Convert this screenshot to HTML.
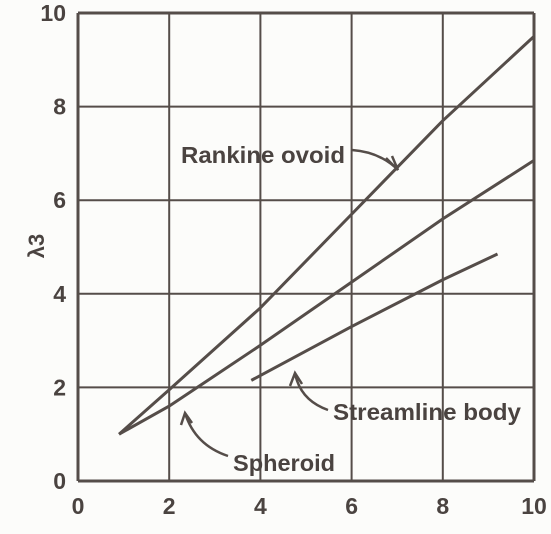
<!DOCTYPE html>
<html><head><meta charset="utf-8"><style>
html,body{margin:0;padding:0;background:#fcfcfa;}
svg{display:block;}
text{font-family:"Liberation Sans",sans-serif;fill:#4a4340;font-weight:bold;}
</style></head><body>
<svg id="chart" width="551" height="534"></svg>
<script>
const xTicks=[0,2,4,6,8,10];
const yTicks=[0,2,4,6,8,10];
const rankineX=[0.9,2,4,6,8,10];
const rankineY=[1.0,1.95,3.7,5.7,7.7,9.5];
const spheroidX=[0.9,2,4,6,8,10];
const spheroidY=[1.0,1.6,2.9,4.25,5.6,6.85];
const streamX=[3.8,6,8,9.2];
const streamY=[2.15,3.3,4.3,4.85];

const X0=78,X1=534,Y0=481,Y1=13;
const sx=v=>X0+(v-0)/10*(X1-X0);
const sy=v=>Y0-(v-0)/10*(Y0-Y1);
const NS="http://www.w3.org/2000/svg";
const svg=document.getElementById('chart');
function mk(t,a){const e=document.createElementNS(NS,t);for(const k in a)e.setAttribute(k,a[k]);svg.appendChild(e);return e;}
const ink="#554d49";
xTicks.forEach(v=>{
 const l=mk('line',{x1:sx(v),x2:sx(v),y1:Y1,y2:Y0,stroke:ink,'stroke-width':v===0||v===10?3:2});
 
 
 const t=mk('text',{x:sx(v),y:Y0+33,'text-anchor':'middle','font-size':23});
 t.textContent=v;
 
 
});
yTicks.forEach(v=>{
 const l=mk('line',{x1:X0,x2:X1,y1:sy(v),y2:sy(v),stroke:ink,'stroke-width':v===0||v===10?3:2});
 
 
 const t=mk('text',{x:X0-12,y:sy(v)+8,'text-anchor':'end','font-size':23});
 t.textContent=v;
 
 
});
function series(xs,ys,name){
 const d=xs.map((x,i)=>(i?'L':'M')+sx(x)+' '+sy(ys[i])).join(' ');
 const p=mk('path',{d:d,fill:'none',stroke:ink,'stroke-width':3});
 
 
}
series(rankineX,rankineY,'rankine-ovoid-line');
series(spheroidX,spheroidY,'spheroid-line');
series(streamX,streamY,'streamline-body-line');
function arrow(d,name){
 const p=mk('path',{d:d,fill:'none',stroke:ink,'stroke-width':2.5});
 
 
}
arrow('M352 150 Q380 152 398 170 M386 158 L398 170 L392 156','rankine-arrow');
arrow('M328 410 Q300 400 295 373 M290 386 L295 373 L302 384','streamline-arrow');
arrow('M228 456 Q195 445 185 413 M181 425 L185 413 L192 423','spheroid-arrow');
function lab(x,y,s,w,name){const t=mk('text',{x:x,y:y,'font-size':23,textLength:w,lengthAdjust:'spacingAndGlyphs'});t.textContent=s;
 }
lab(181,163,'Rankine ovoid',164,'rankine-label');
lab(333,420,'Streamline body',188,'streamline-label');
lab(233,471,'Spheroid',102,'spheroid-label');
const yl=mk('text',{x:0,y:0,'font-size':22,transform:'translate(44,246) rotate(-90)','text-anchor':'middle'});
yl.textContent='λ3';


</script>
</body></html>
